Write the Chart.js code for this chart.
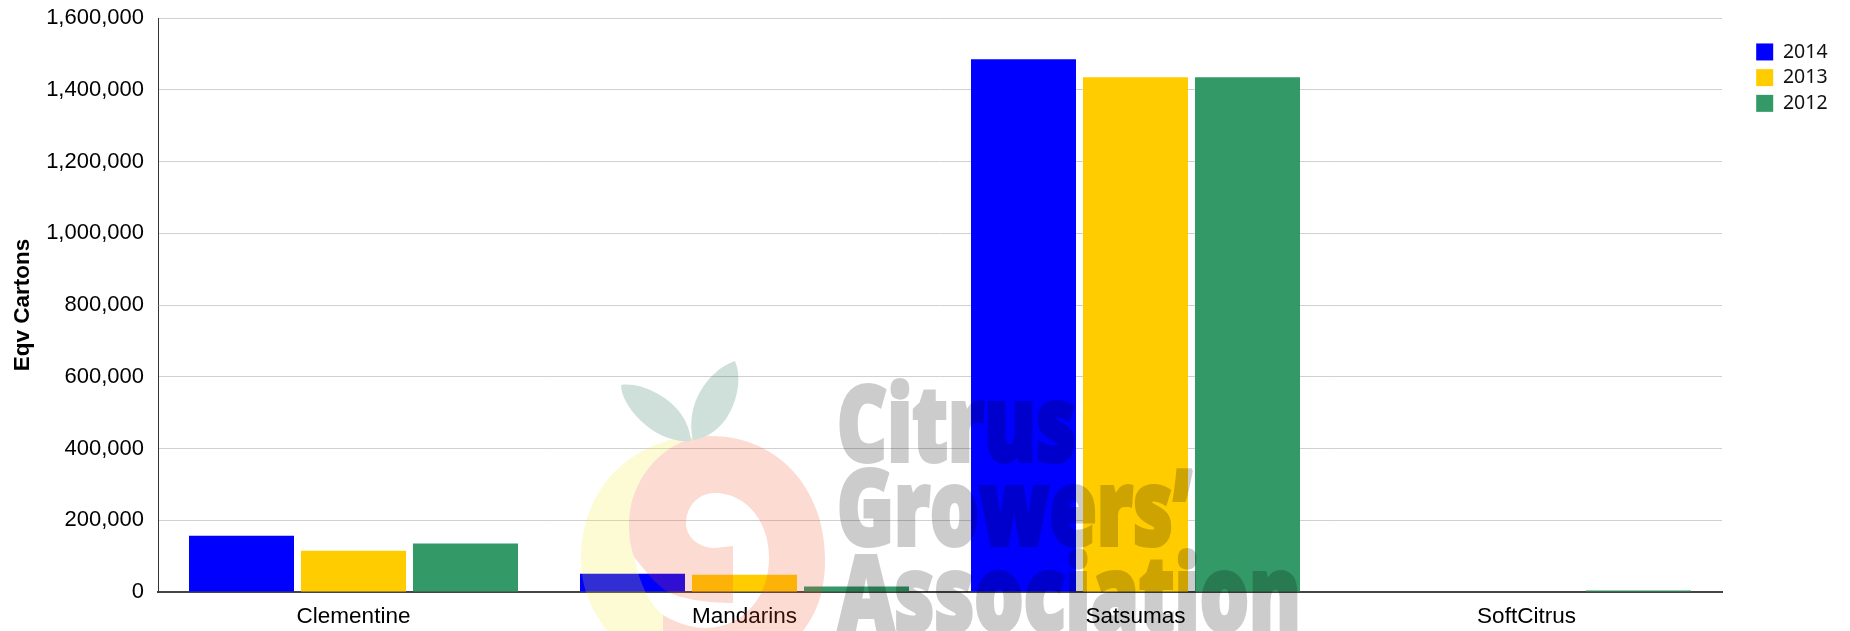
<!DOCTYPE html>
<html><head><meta charset="utf-8">
<script src="https://cdn.jsdelivr.net/npm/chart.js@4"></script>
<style>
html,body{margin:0;padding:0;background:#fff;overflow:hidden}
#wrap{position:relative;width:1850px;height:631px}
canvas{display:block}
#logo{position:absolute;left:0;top:0;width:1850px;height:631px;opacity:.2;pointer-events:none}
</style></head><body>
<div id="wrap"><canvas id="c" width="1850" height="631"></canvas>
<svg id="logo" viewBox="0 0 1850 631" xmlns="http://www.w3.org/2000/svg">
<path fill="#f5e828" d="M710 435C630 435 581 490 581 558C581 590 592 610 607 631L663 631L663 615C650 605 640 585 634 557L629 523L710 435Z"/>
<path fill="#f04e23" d="M710 436C780 436 825 490 825 560C825 595 815 615 803 631L663 631L663 615C680 625 695 628 705 628C740 628 769 600 769 558C769 520 745 493 715 493C697 493 686 508 686 523C686 538 700 548 715 548L733 546L733 603C705 603 680 598 670 593C655 585 645 570 634 557C630 545 629 535 629 523C629 480 665 436 710 436Z"/>
<path fill="#0a6640" d="M621 385C640 382 665 395 678 410C686 420 690 430 691 441C675 443 655 435 640 420C628 408 621 395 621 385Z"/>
<path fill="#0a6640" d="M735 361C741 375 739 395 730 412C722 428 708 438 693 440C689 425 692 405 700 392C708 378 720 366 735 361Z"/>
<g fill="#000" stroke="#000" stroke-width="4" font-family="'Open Sans'" font-weight="800" font-size="105">
<text x="837" y="461" textLength="239" lengthAdjust="spacingAndGlyphs">Citrus</text>
<text x="837" y="545" textLength="355" lengthAdjust="spacingAndGlyphs">Growers’</text>
<text x="838" y="631" textLength="463" lengthAdjust="spacingAndGlyphs">Association</text>
</g></svg></div>
<script>
const categories = ["Clementine","Mandarins","Satsumas","SoftCitrus"];
const values2014 = [157000,51000,1485000,0];
const values2013 = [115000,48000,1435000,0];
const values2012 = [135000,15000,1435000,4000];
const tickValues = [0,200000,400000,600000,800000,1000000,1200000,1400000,1600000];

const legendFix = {
  id:'legendFix',
  beforeLayout(chart){
    const l = chart.legend;
    if(l && !l._patched){
      const f = l.fit;
      l.fit = function(){ f.call(this); this.width = 128; };
      l._patched = true;
    }
  },
  afterLayout(chart){
    const l = chart.legend;
    l.left = 1750; l.right = 1850; l.top = 36;
    l.adjustHitBoxes && l.adjustHitBoxes();
  }
};
new Chart(document.getElementById('c'),{
  type:'bar',
  data:{labels:categories,datasets:[
    {label:'2014',data:values2014,backgroundColor:'#0000ff'},
    {label:'2013',data:values2013,backgroundColor:'#ffcc00'},
    {label:'2012',data:values2012,backgroundColor:'#339966'}
  ]},
  plugins:[legendFix],
  options:{
    responsive:false,animation:false,
    layout:{padding:{top:18,left:0,right:0,bottom:0}},
    datasets:{bar:{categoryPercentage:336/391,barPercentage:0.9375,borderWidth:0}},
    plugins:{
      tooltip:{enabled:false},
      legend:{position:'right',align:'start',
        labels:{boxWidth:17,boxHeight:17,padding:6.2,color:'#111',
          font:{family:"'Noto Sans'",size:19.5}}}
    },
    scales:{
      x:{
        grid:{display:false,drawTicks:false},
        border:{display:true,color:'#444',width:2},
        ticks:{color:'#000',padding:11,font:{family:"'Liberation Sans'",size:22.5},maxRotation:0},
        afterFit(s){s.height=39;s.paddingLeft=0;s.paddingRight=0;}
      },
      y:{
        min:0,max:1600000,
        afterBuildTicks(s){s.ticks=tickValues.map(v=>({value:v}));},
        grid:{color:'#d0d0d0',lineWidth:1,drawTicks:false},
        border:{display:true,color:'#333',width:1},
        ticks:{color:'#000',padding:14,font:{family:"'Liberation Sans'",size:22},
          callback:v=>v.toLocaleString('en-US')},
        title:{display:true,text:'Eqv Cartons',color:'#000',padding:{top:9,bottom:0},
          font:{family:"'Liberation Sans'",size:22.5,weight:'bold'}},
        afterFit(s){s.width=158;s.paddingTop=0;s.paddingBottom=0;}
      }
    }
  }
});
</script></body></html>
